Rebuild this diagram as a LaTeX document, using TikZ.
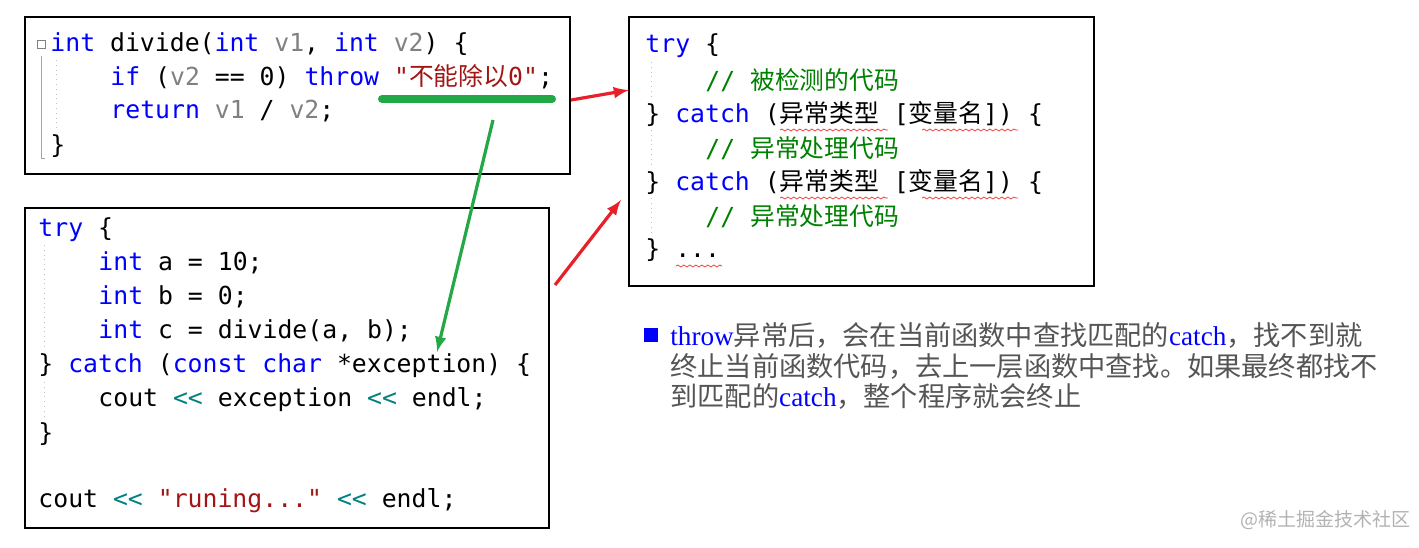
\documentclass[tikz,border=0pt]{standalone}
\usepackage{fontspec}
\usetikzlibrary{decorations.pathmorphing}
\setmonofont{DejaVu Sans Mono}
\newfontfamily\cjk{Noto Sans CJK SC}
\newfontfamily\serifx{Liberation Serif}
\definecolor{kw}{HTML}{0000FF}
\definecolor{vr}{HTML}{808080}
\definecolor{st}{HTML}{A31515}
\definecolor{cm}{HTML}{008000}
\definecolor{op}{HTML}{008080}
\definecolor{tx}{HTML}{555555}
\definecolor{ar}{HTML}{E8202A}
\definecolor{gr}{HTML}{22A845}
\newcommand\kw[1]{\textcolor{kw}{#1}}
\newcommand\vr[1]{\textcolor{vr}{#1}}
\newcommand\opx[1]{\textcolor{op}{#1}}
\newcommand\zh[1]{{\cjk #1}}
\begin{document}
\begin{tikzpicture}[x=0.5pt,y=-0.5pt,
  code/.style={anchor=west,inner sep=0pt,font=\fontsize{12.4}{14}\ttfamily},
  box/.style={draw=black,line width=0.8pt},
  guide/.style={draw=gray!50,dotted,line width=0.4pt},
  para/.style={anchor=west,inner sep=0pt,text=tx,font=\fontsize{13.6}{16}\cjk},
  sq/.style={draw=red!80,decorate,decoration={snake,amplitude=0.5pt,segment length=3pt},line width=0.4pt}]
\useasboundingbox (0,0) rectangle (1419,547);
% box 1
\draw[box] (25,17) rectangle (570,174);
\node[draw=gray,inner sep=0pt,minimum size=4pt] (fold) at (41,44) {};
\draw[gray!70] (41,56) -- (41,158) -- (45,158);
\draw[guide] (56,60) -- (56,128);
\node[code] (a1) at (50,44) {\kw{int} divide(\kw{int} \vr{v1}, \kw{int} \vr{v2}) \{};
\node[code] (a2) at (110,77) {\kw{if} (\vr{v2} == 0) \kw{throw} \textcolor{st}{"\zh{不能除以}0"};};
\node[code] (a3) at (110,111) {\kw{return} \vr{v1} / \vr{v2};};
\node[code] (a4) at (50,146) {\}};
% box 2
\draw[box] (25,208) rectangle (549,528);
\draw[guide] (44,245) -- (44,350);
\draw[guide] (44,382) -- (44,418);
\node[code] (b1) at (38,230) {\kw{try} \{};
\node[code] (b2) at (98,263) {\kw{int} a = 10;};
\node[code] (b3) at (98,297) {\kw{int} b = 0;};
\node[code] (b4) at (98,331) {\kw{int} c = divide(a, b);};
\node[code] (b5) at (38,366) {\} \kw{catch} (\kw{const} \kw{char} *exception) \{};
\node[code] (b6) at (98,400) {cout \opx{<<} exception \opx{<<} endl;};
\node[code] (b7) at (38,434) {\}};
\node[code] (b8) at (38,501) {cout \opx{<<} \textcolor{st}{"runing..."} \opx{<<} endl;};
% box 3
\draw[box] (629,17) rectangle (1094,286);
\draw[guide] (651,62) -- (651,96);
\draw[guide] (651,130) -- (651,164);
\draw[guide] (651,198) -- (651,232);
\node[code] (c1) at (645,46) {\kw{try} \{};
\node[code] (c2) at (705,80) {\textcolor{cm}{// \zh{被检测的代码}}};
\node[code] (c3) at (645,114) {\} \kw{catch} (\zh{异常类型} [\zh{变量名}]) \{};
\node[code] (c4) at (705,148) {\textcolor{cm}{// \zh{异常处理代码}}};
\node[code] (c5) at (645,182) {\} \kw{catch} (\zh{异常类型} [\zh{变量名}]) \{};
\node[code] (c6) at (705,216) {\textcolor{cm}{// \zh{异常处理代码}}};
\node[code] (c7) at (645,250) {\} ...};
\draw[sq] (780,130) -- (888,130);
\draw[sq] (922,130) -- (1018,130);
\draw[sq] (780,198) -- (888,198);
\draw[sq] (922,198) -- (1018,198);
\draw[sq] (676,266) -- (722,266);
% paragraph
\fill[kw] (644,328) rectangle (658,342);
\node[para] (p1) at (670,335) {{\serifx\color{kw}throw}异常后，会在当前函数中查找匹配的{\serifx\color{kw}catch}，找不到就};
\node[para] (p2) at (670,366) {终止当前函数代码，去上一层函数中查找。如果最终都找不};
\node[para] (p3) at (670,396) {到匹配的{\serifx\color{kw}catch}，整个程序就会终止};
\node[anchor=west,inner sep=0pt,text=gray!60,font=\fontsize{9.5}{11}\cjk] (wm) at (1240,520) {@稀土掘金技术社区};
% connectors
\coordinate (u1) at (382,99); \coordinate (u2) at (552,99);
\draw[gr,line width=4pt,line cap=round] (u1) -- (u2);
\coordinate (g0) at (493,120);
\coordinate (g1) at (437,352);
\draw[gr,line width=1.6pt,-latex] (g0) -- (g1);
\coordinate (r0) at (571,100);
\coordinate (r3) at (629,90);
\draw[ar,line width=1.6pt,-latex] (r0) -- (r3);
\coordinate (r1) at (555,285);
\coordinate (r2) at (621,200);
\draw[ar,line width=1.6pt,-latex] (r1) -- (r2);
\end{tikzpicture}
\end{document}
